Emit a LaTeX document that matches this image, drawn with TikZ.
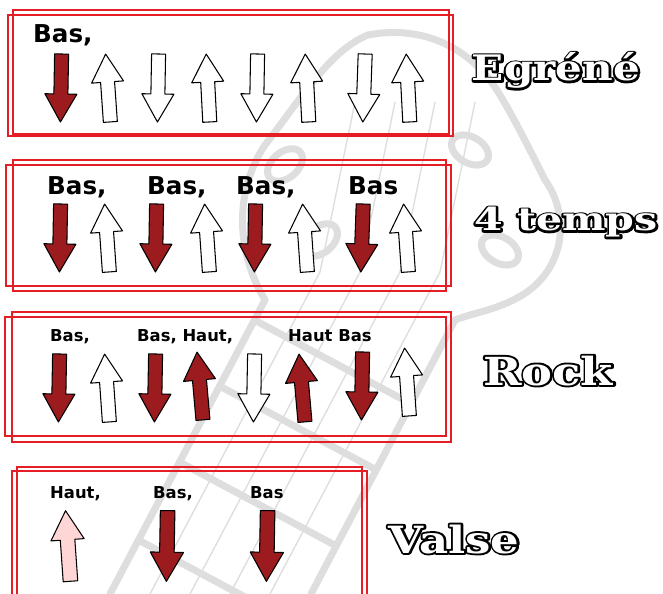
\documentclass[tikz,border=0pt]{standalone}
\usepackage{fontspec}
\setmainfont{DejaVu Sans}
\newfontfamily\titlefont{DejaVu Serif}
\definecolor{strumRed}{HTML}{9B1B1E}
\definecolor{softPink}{HTML}{FFD6D6}
\definecolor{frameRed}{HTML}{E41E24}
\definecolor{guitarGray}{HTML}{DEDEDE}

% white letters with a black rim: stroked copy below, white copy on top
\newcommand{\rimmed}[1]{%
    \rlap{\special{pdf:literal direct 1 Tr 3.2 w 1 j 0 G}#1\special{pdf:literal direct 0 Tr 0.4 w}}%
    \textcolor{white}{#1}}

\tikzset{
    pics/strum/.style={code={
        \filldraw[fill=#1, draw=black, line width=0.9pt, line join=round]
            (-7,-34) -- (7,-34) -- (7,6) -- (16,6) -- (0,34) -- (-16,6) -- (-7,6) -- cycle;
    }}
}

\begin{document}
\begin{tikzpicture}[x=0.03cm, y=-0.03cm]

    \useasboundingbox (0,0) rectangle (663,594);

    % --- 1. Guitar sketch in the background ---
    \tikzstyle{guitar}=[guitarGray, line width=6pt, line cap=round, line join=round]
    \tikzstyle{string}=[guitarGray, line width=1.2pt]

    % Headstock outline
    \draw[guitar] (265,300) .. controls (235,250) and (235,190) .. (265,145)
        .. controls (300,100) and (330,50) .. (368,35)
        .. controls (420,25) and (470,45) .. (500,95)
        .. controls (515,120) and (530,150) .. (545,180)
        .. controls (570,215) and (565,265) .. (527,292)
        .. controls (500,310) and (475,312) .. (455,320);

    % Neck edges
    \draw[guitar] (265,300) -- (110,594);
    \draw[guitar] (455,320) -- (311,594);

    % Frets
    \foreach \y in {320, 386, 462, 540}
        \draw[guitar] ({110+(594-\y)*0.527}, \y) -- ++(155,83);

    % Strings
    \foreach \dx in {40, 80, 120, 160}
        \draw[string] (110+\dx, 594) -- ++(170,-322) -- ++(35,-170);

    % Tuning pegs
    \foreach \px/\py/\a in {285/165/40, 320/240/40, 470/150/-30, 500/250/-30}
        \draw[guitar, rotate around={\a:(\px,\py)}] (\px,\py) ellipse (20 and 13);


    % --- 2. Frames ---
    \tikzstyle{box}=[frameRed, line width=1.1pt]

    % Egrene
    \draw[box] (13,10) rectangle (449,134);
    \draw[box] (8,15) rectangle (453,136);
    % 4 temps
    \draw[box] (13,160) rectangle (446,291);
    \draw[box] (6,165) rectangle (451,286);
    % Rock
    \draw[box] (12,312) rectangle (451,442);
    \draw[box] (5,317) rectangle (446,436);
    % Valse
    \draw[box] (17,600) -- (17,467) -- (362,467) -- (362,600);
    \draw[box] (12,600) -- (12,471) -- (367,471) -- (367,600);


    % --- 3. Strokes ---
    % x / rotation / fill (rotation 180 = stroke up)
    \foreach \x/\r/\c in {61/-1/strumRed, 108/184/white, 158/-1/white, 208/183/white,
                          257/-1/white, 307/183/white, 364/-2/white, 408/183/white}
        \pic[rotate=\r] at (\x,88) {strum=\c};

    \foreach \x/\r/\c in {60/-1/strumRed, 107/184/white, 156/-1/strumRed, 207/184/white,
                          255/-1/strumRed, 305/184/white, 362/-2/strumRed, 406/184/white}
        \pic[rotate=\r] at (\x,238) {strum=\c};

    \foreach \x/\y/\r/\c in {59/388/-1/strumRed, 107/388/184/white, 155/388/-1/strumRed,
                             200/386/185/strumRed, 254/388/-1/white, 302/388/185/strumRed,
                             362/386/-1/strumRed, 407/382/184/white}
        \pic[rotate=\r] at (\x,\y) {strum=\c};

    \foreach \x/\r/\c in {68/184/softPink, 167/-1/strumRed, 267/-1/strumRed}
        \pic[rotate=\r, scale=1.04] at (\x,546) {strum=\c};


    % --- 4. Labels ---
    \tikzstyle{bigcall}=[anchor=base west, inner sep=0pt, font=\bfseries\fontsize{21}{21}\selectfont]
    \tikzstyle{smallcall}=[anchor=base west, inner sep=0pt, font=\bfseries\fontsize{14}{14}\selectfont]

    \node[bigcall] (egr1) at (33,43) {Bas,};

    \node[bigcall] (tmp1) at (47,195) {Bas,};
    \node[bigcall] (tmp2) at (147,195) {Bas,};
    \node[bigcall] (tmp3) at (236,195) {Bas,};
    \node[bigcall] (tmp4) at (348,195) {Bas};

    \node[smallcall] (rck1) at (50,341) {Bas,};
    \node[smallcall] (rck2) at (137,341) {Bas, Haut,};
    \node[smallcall] (rck3) at (288,341) {Haut Bas};

    \node[smallcall] (vls1) at (50,498) {Haut,};
    \node[smallcall] (vls2) at (153,498) {Bas,};
    \node[smallcall] (vls3) at (250,498) {Bas};


    % --- 5. Titles ---
    \tikzstyle{rhythm}=[anchor=base, inner sep=0pt, transform shape,
                        font=\titlefont\bfseries\fontsize{#1}{#1}\selectfont]

    \node[rhythm=30, xscale=1.2] (egrene) at (556,81) {\rimmed{Egréné}};
    \node[rhythm=27, xscale=1.3] (quatre) at (566,231) {\rimmed{4 temps}};
    \node[rhythm=33, xscale=1.2] (rock) at (548,385) {\rimmed{Rock}};
    \node[rhythm=32, xscale=1.2] (valse) at (454,553) {\rimmed{Valse}};

\end{tikzpicture}
\end{document}
